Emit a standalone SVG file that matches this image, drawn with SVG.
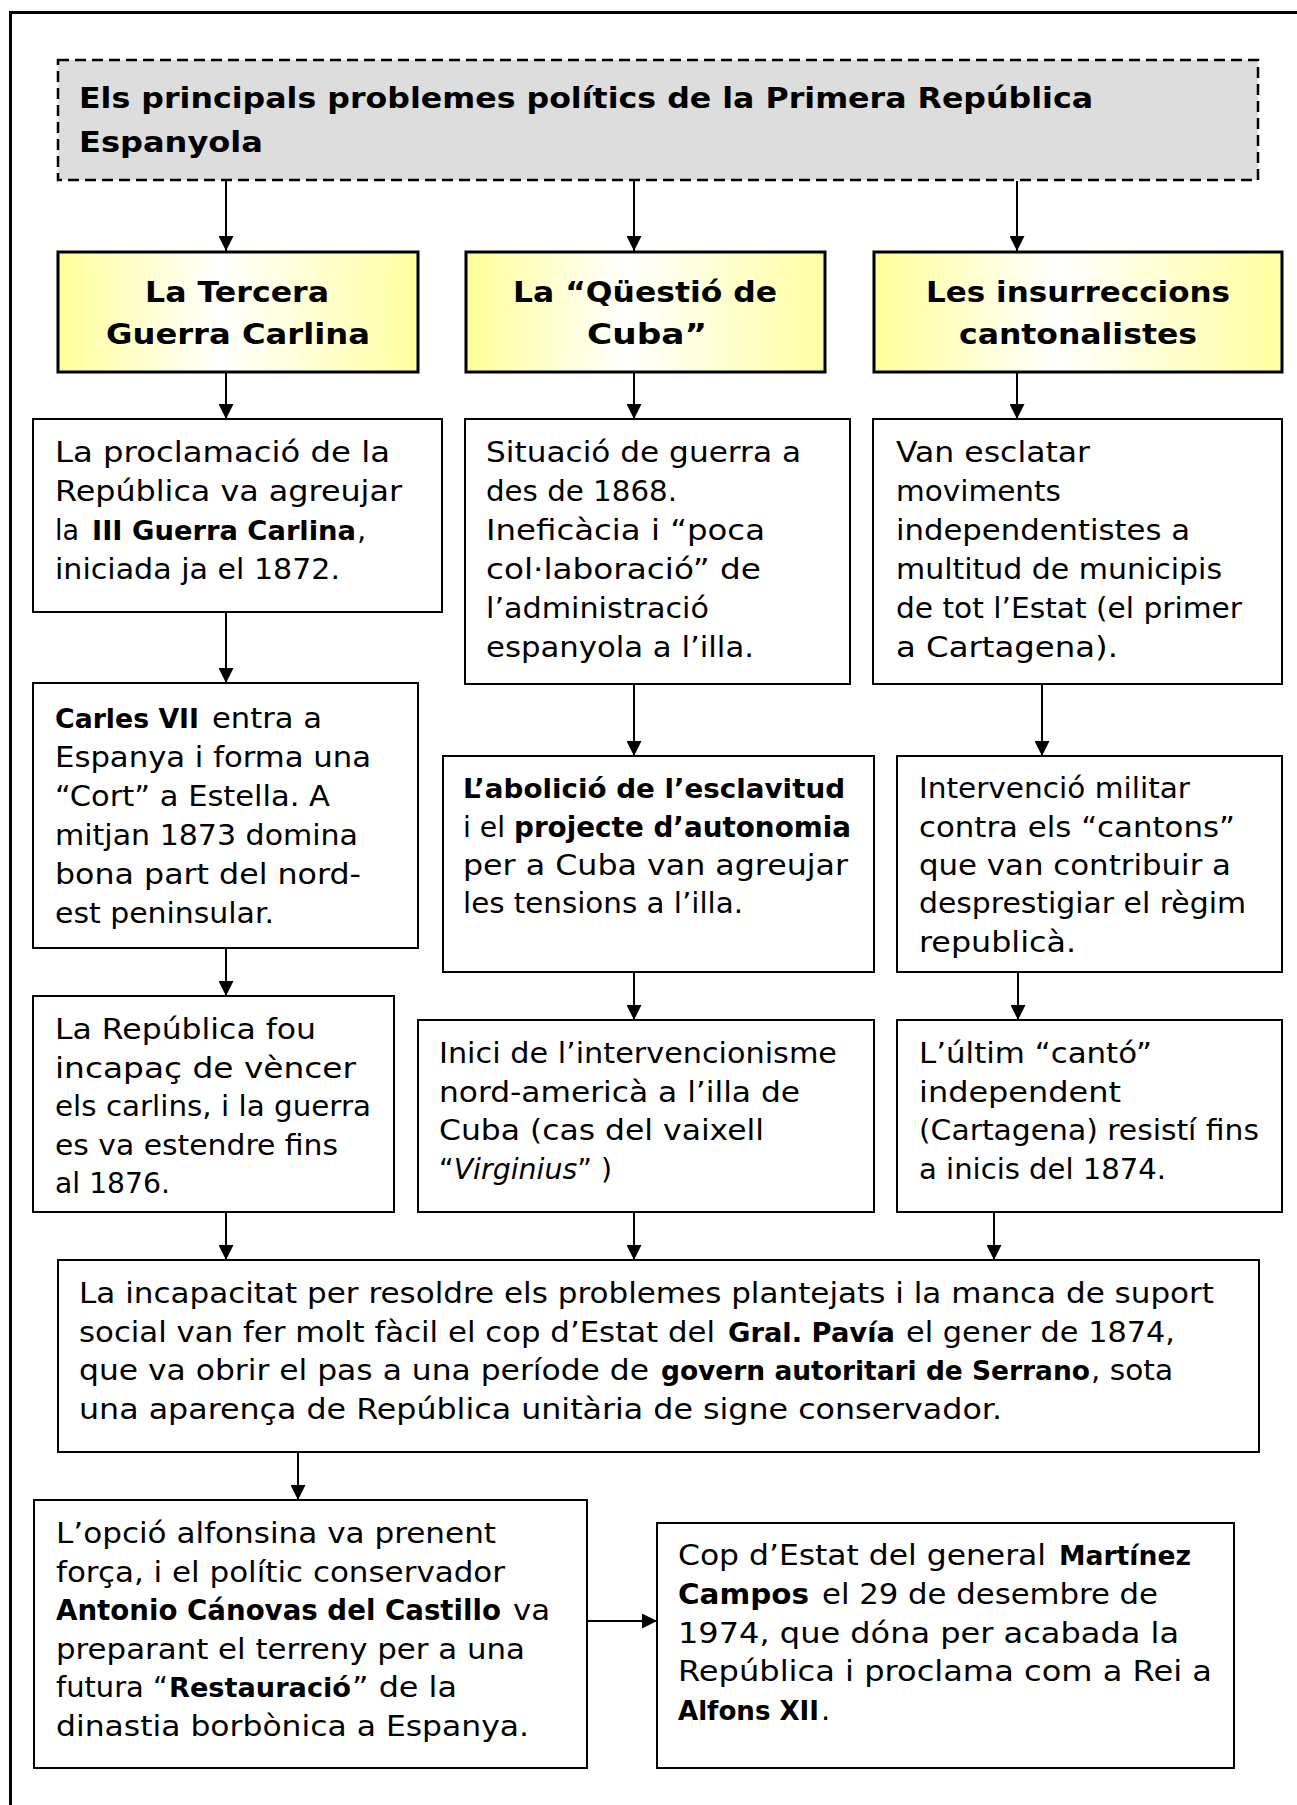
<svg xmlns="http://www.w3.org/2000/svg" width="1297" height="1805" viewBox="0 0 1297 1805">
<defs>
<linearGradient id="yg" x1="0" y1="0" x2="1" y2="0">
<stop offset="0" stop-color="#ffff99"/>
<stop offset="0.45" stop-color="#ffffff"/>
<stop offset="1" stop-color="#ffffa0"/>
</linearGradient>
<marker id="ah" markerUnits="userSpaceOnUse" markerWidth="15" markerHeight="15" refX="15" refY="7.5" orient="auto">
<path d="M0,0 L15,7.5 L0,15 z" fill="#000"/>
</marker>
<style>
.t{font-family:"DejaVu Sans",Verdana,sans-serif;font-size:29px;fill:#000}
.b{font-weight:bold}
.i{font-style:italic}
.box{fill:#fff;stroke:#000;stroke-width:2}
.ybox{fill:url(#yg);stroke:#000;stroke-width:3}
.con{stroke:#000;stroke-width:2;fill:none;marker-end:url(#ah)}
</style>
</defs>
<rect x="0" y="0" width="1297" height="1805" fill="#fff"/>
<path d="M10.5,1805 V12.5 H1297" fill="none" stroke="#000" stroke-width="3"/>

<g id="connectors">
<line class="con" x1="226" y1="181" x2="226" y2="251"/>
<line class="con" x1="634" y1="181" x2="634" y2="251"/>
<line class="con" x1="1017" y1="181" x2="1017" y2="251"/>
<line class="con" x1="226" y1="373" x2="226" y2="419"/>
<line class="con" x1="634" y1="373" x2="634" y2="419"/>
<line class="con" x1="1017" y1="373" x2="1017" y2="419"/>
<line class="con" x1="226" y1="612" x2="226" y2="683"/>
<line class="con" x1="634" y1="684" x2="634" y2="756"/>
<line class="con" x1="1042" y1="684" x2="1042" y2="756"/>
<line class="con" x1="226" y1="948" x2="226" y2="996"/>
<line class="con" x1="634" y1="972" x2="634" y2="1020"/>
<line class="con" x1="1018" y1="972" x2="1018" y2="1020"/>
<line class="con" x1="226" y1="1212" x2="226" y2="1260"/>
<line class="con" x1="634" y1="1212" x2="634" y2="1260"/>
<line class="con" x1="994" y1="1212" x2="994" y2="1260"/>
<line class="con" x1="298" y1="1452" x2="298" y2="1500"/>
<line class="con" x1="587" y1="1621" x2="657" y2="1621"/>
</g>

<g id="title">
<rect x="58" y="60" width="1200" height="120" fill="#dddddd" stroke="#000" stroke-width="2.5" stroke-dasharray="11,6"/>
<text class="t b" x="79" y="108" textLength="1014" lengthAdjust="spacingAndGlyphs">Els principals problemes polítics de la Primera República</text>
<text class="t b" x="79" y="152" textLength="184" lengthAdjust="spacingAndGlyphs">Espanyola</text>
</g>

<g id="h-carlina">
<rect class="ybox" x="58" y="252" width="360" height="120"/>
<text class="t b" x="145" y="302" textLength="184" lengthAdjust="spacingAndGlyphs">La Tercera</text>
<text class="t b" x="106" y="344" textLength="264" lengthAdjust="spacingAndGlyphs">Guerra Carlina</text>
</g>

<g id="h-cuba">
<rect class="ybox" x="466" y="252" width="359" height="120"/>
<text class="t b" x="513" y="302" textLength="264" lengthAdjust="spacingAndGlyphs">La “Qüestió de</text>
<text class="t b" x="587" y="344" textLength="120" lengthAdjust="spacingAndGlyphs">Cuba”</text>
</g>

<g id="h-cantons">
<rect class="ybox" x="874" y="252" width="408" height="120"/>
<text class="t b" x="926" y="302" textLength="304" lengthAdjust="spacingAndGlyphs">Les insurreccions</text>
<text class="t b" x="959" y="344" textLength="238" lengthAdjust="spacingAndGlyphs">cantonalistes</text>
</g>

<g id="a2">
<rect class="box" x="33" y="419" width="409" height="193"/>
<text class="t" x="55" y="462" textLength="335" lengthAdjust="spacingAndGlyphs">La proclamació de la</text>
<text class="t" x="55" y="501" textLength="347" lengthAdjust="spacingAndGlyphs">República va agreujar</text>
<text class="t" x="55" y="540" textLength="24" lengthAdjust="spacingAndGlyphs">la</text>
<text class="t b" x="92" y="540" style="font-size:27.4px" textLength="264" lengthAdjust="spacingAndGlyphs">III Guerra Carlina</text>
<text class="t" x="357" y="540">,</text>
<text class="t" x="55" y="579" textLength="285" lengthAdjust="spacingAndGlyphs">iniciada ja el 1872.</text>
</g>

<g id="b2">
<rect class="box" x="465" y="419" width="385" height="265"/>
<text class="t" x="486" y="462" textLength="315" lengthAdjust="spacingAndGlyphs">Situació de guerra a</text>
<text class="t" x="486" y="501" textLength="191" lengthAdjust="spacingAndGlyphs">des de 1868.</text>
<text class="t" x="486" y="540" textLength="279" lengthAdjust="spacingAndGlyphs">Ineficàcia i “poca</text>
<text class="t" x="486" y="579" textLength="275" lengthAdjust="spacingAndGlyphs">col·laboració” de</text>
<text class="t" x="486" y="618" textLength="223" lengthAdjust="spacingAndGlyphs">l’administració</text>
<text class="t" x="486" y="657" textLength="268" lengthAdjust="spacingAndGlyphs">espanyola a l’illa.</text>
</g>

<g id="c2">
<rect class="box" x="873" y="419" width="409" height="265"/>
<text class="t" x="896" y="462" textLength="194" lengthAdjust="spacingAndGlyphs">Van esclatar</text>
<text class="t" x="896" y="501" textLength="165" lengthAdjust="spacingAndGlyphs">moviments</text>
<text class="t" x="896" y="540" textLength="294" lengthAdjust="spacingAndGlyphs">independentistes a</text>
<text class="t" x="896" y="579" textLength="326" lengthAdjust="spacingAndGlyphs">multitud de municipis</text>
<text class="t" x="896" y="618" textLength="346" lengthAdjust="spacingAndGlyphs">de tot l’Estat (el primer</text>
<text class="t" x="896" y="657" textLength="222" lengthAdjust="spacingAndGlyphs">a Cartagena).</text>
</g>

<g id="a3">
<rect class="box" x="33" y="683" width="385" height="265"/>
<text class="t b" x="55" y="728" style="font-size:26.7px" textLength="144" lengthAdjust="spacingAndGlyphs">Carles VII</text>
<text class="t" x="212" y="728" textLength="110" lengthAdjust="spacingAndGlyphs">entra a</text>
<text class="t" x="55" y="767" textLength="316" lengthAdjust="spacingAndGlyphs">Espanya i forma una</text>
<text class="t" x="55" y="806" textLength="275" lengthAdjust="spacingAndGlyphs">“Cort” a Estella. A</text>
<text class="t" x="55" y="845" textLength="303" lengthAdjust="spacingAndGlyphs">mitjan 1873 domina</text>
<text class="t" x="55" y="884" textLength="306" lengthAdjust="spacingAndGlyphs">bona part del nord-</text>
<text class="t" x="55" y="923" textLength="219" lengthAdjust="spacingAndGlyphs">est peninsular.</text>
</g>

<g id="b3">
<rect class="box" x="443" y="756" width="431" height="216"/>
<text class="t b" x="463" y="798" style="font-size:27.4px" textLength="382" lengthAdjust="spacingAndGlyphs">L’abolició de l’esclavitud</text>
<text class="t" x="463" y="837" textLength="42" lengthAdjust="spacingAndGlyphs">i el</text>
<text class="t b" x="514" y="837" style="font-size:27.8px" textLength="337" lengthAdjust="spacingAndGlyphs">projecte d’autonomia</text>
<text class="t" x="463" y="875" textLength="385" lengthAdjust="spacingAndGlyphs">per a Cuba van agreujar</text>
<text class="t" x="463" y="913" textLength="280" lengthAdjust="spacingAndGlyphs">les tensions a l’illa.</text>
</g>

<g id="c3">
<rect class="box" x="897" y="756" width="385" height="216"/>
<text class="t" x="919" y="798" textLength="271" lengthAdjust="spacingAndGlyphs">Intervenció militar</text>
<text class="t" x="919" y="837" textLength="316" lengthAdjust="spacingAndGlyphs">contra els “cantons”</text>
<text class="t" x="919" y="875" textLength="312" lengthAdjust="spacingAndGlyphs">que van contribuir a</text>
<text class="t" x="919" y="913" textLength="327" lengthAdjust="spacingAndGlyphs">desprestigiar el règim</text>
<text class="t" x="919" y="952" textLength="157" lengthAdjust="spacingAndGlyphs">republicà.</text>
</g>

<g id="a4">
<rect class="box" x="33" y="996" width="361" height="216"/>
<text class="t" x="55" y="1039" textLength="261" lengthAdjust="spacingAndGlyphs">La República fou</text>
<text class="t" x="55" y="1078" textLength="301" lengthAdjust="spacingAndGlyphs">incapaç de vèncer</text>
<text class="t" x="55" y="1116" textLength="316" lengthAdjust="spacingAndGlyphs">els carlins, i la guerra</text>
<text class="t" x="55" y="1155" textLength="283" lengthAdjust="spacingAndGlyphs">es va estendre fins</text>
<text class="t" x="55" y="1193" textLength="115" lengthAdjust="spacingAndGlyphs">al 1876.</text>
</g>

<g id="b4">
<rect class="box" x="418" y="1020" width="456" height="192"/>
<text class="t" x="439" y="1063" textLength="398" lengthAdjust="spacingAndGlyphs">Inici de l’intervencionisme</text>
<text class="t" x="439" y="1102" textLength="361" lengthAdjust="spacingAndGlyphs">nord-americà a l’illa de</text>
<text class="t" x="439" y="1140" textLength="325" lengthAdjust="spacingAndGlyphs">Cuba (cas del vaixell</text>
<text class="t" x="439" y="1179" textLength="173" lengthAdjust="spacingAndGlyphs">“<tspan class="i">Virginius</tspan>” )</text>
</g>

<g id="c4">
<rect class="box" x="897" y="1020" width="385" height="192"/>
<text class="t" x="919" y="1063" textLength="233" lengthAdjust="spacingAndGlyphs">L’últim “cantó”</text>
<text class="t" x="919" y="1102" textLength="202" lengthAdjust="spacingAndGlyphs">independent</text>
<text class="t" x="919" y="1140" textLength="340" lengthAdjust="spacingAndGlyphs">(Cartagena) resistí fins</text>
<text class="t" x="919" y="1179" textLength="247" lengthAdjust="spacingAndGlyphs">a inicis del 1874.</text>
</g>

<g id="pavia">
<rect class="box" x="58" y="1260" width="1201" height="192"/>
<text class="t" x="79" y="1303" textLength="1135" lengthAdjust="spacingAndGlyphs">La incapacitat per resoldre els problemes plantejats i la manca de suport</text>
<text class="t" x="79" y="1342" textLength="636" lengthAdjust="spacingAndGlyphs">social van fer molt fàcil el cop d’Estat del</text>
<text class="t b" x="728" y="1342" style="font-size:27.4px" textLength="167" lengthAdjust="spacingAndGlyphs">Gral. Pavía</text>
<text class="t" x="906" y="1342" textLength="269" lengthAdjust="spacingAndGlyphs">el gener de 1874,</text>
<text class="t" x="79" y="1380" textLength="570" lengthAdjust="spacingAndGlyphs">que va obrir el pas a una període de</text>
<text class="t b" x="661" y="1380" style="font-size:26.4px" textLength="429" lengthAdjust="spacingAndGlyphs">govern autoritari de Serrano</text>
<text class="t" x="1091" y="1380" textLength="82" lengthAdjust="spacingAndGlyphs">, sota</text>
<text class="t" x="79" y="1419" textLength="923" lengthAdjust="spacingAndGlyphs">una aparença de República unitària de signe conservador.</text>
</g>

<g id="canovas">
<rect class="box" x="34" y="1500" width="553" height="268"/>
<text class="t" x="56" y="1543" textLength="440" lengthAdjust="spacingAndGlyphs">L’opció alfonsina va prenent</text>
<text class="t" x="56" y="1582" textLength="449" lengthAdjust="spacingAndGlyphs">força, i el polític conservador</text>
<text class="t b" x="56" y="1620" style="font-size:27.5px" textLength="445" lengthAdjust="spacingAndGlyphs">Antonio Cánovas del Castillo</text>
<text class="t" x="513" y="1620" textLength="37" lengthAdjust="spacingAndGlyphs">va</text>
<text class="t" x="56" y="1659" textLength="469" lengthAdjust="spacingAndGlyphs">preparant el terreny per a una</text>
<text class="t" x="56" y="1697" textLength="112" lengthAdjust="spacingAndGlyphs">futura “</text>
<text class="t b" x="169" y="1697" style="font-size:27.1px" textLength="182" lengthAdjust="spacingAndGlyphs">Restauració</text>
<text class="t" x="352" y="1697" textLength="105" lengthAdjust="spacingAndGlyphs">” de la</text>
<text class="t" x="56" y="1736" textLength="473" lengthAdjust="spacingAndGlyphs">dinastia borbònica a Espanya.</text>
</g>

<g id="campos">
<rect class="box" x="657" y="1523" width="577" height="245"/>
<text class="t" x="678" y="1565" textLength="368" lengthAdjust="spacingAndGlyphs">Cop d’Estat del general</text>
<text class="t b" x="1059" y="1565" style="font-size:26.5px" textLength="132" lengthAdjust="spacingAndGlyphs">Martínez</text>
<text class="t b" x="678" y="1604" textLength="131" lengthAdjust="spacingAndGlyphs">Campos</text>
<text class="t" x="822" y="1604" textLength="336" lengthAdjust="spacingAndGlyphs">el 29 de desembre de</text>
<text class="t" x="678" y="1643" textLength="501" lengthAdjust="spacingAndGlyphs">1974, que dóna per acabada la</text>
<text class="t" x="678" y="1681" textLength="534" lengthAdjust="spacingAndGlyphs">República i proclama com a Rei a</text>
<text class="t b" x="678" y="1720" style="font-size:26px" textLength="141" lengthAdjust="spacingAndGlyphs">Alfons XII</text>
<text class="t" x="821" y="1720">.</text>
</g>
</svg>
